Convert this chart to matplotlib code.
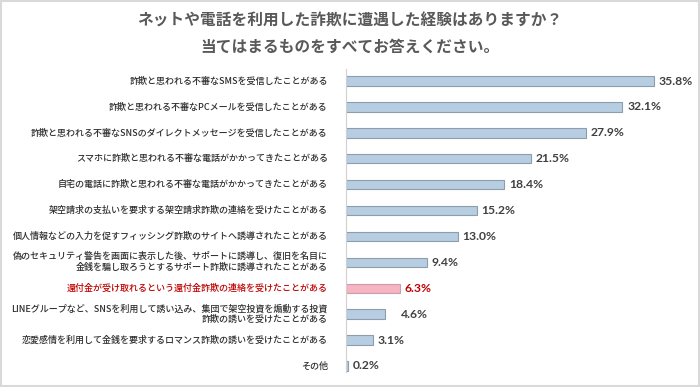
import matplotlib.pyplot as plt
from matplotlib.patches import Rectangle

plt.rcParams['font.family'] = ['Noto Sans CJK JP', 'DejaVu Sans']

title = "ネットや電話を利用した詐欺に遭遇した経験はありますか？\n当てはまるものをすべてお答えください。"
categories = [
    "詐欺と思われる不審なSMSを受信したことがある",
    "詐欺と思われる不審なPCメールを受信したことがある",
    "詐欺と思われる不審なSNSのダイレクトメッセージを受信したことがある",
    "スマホに詐欺と思われる不審な電話がかかってきたことがある",
    "自宅の電話に詐欺と思われる不審な電話がかかってきたことがある",
    "架空請求の支払いを要求する架空請求詐欺の連絡を受けたことがある",
    "個人情報などの入力を促すフィッシング詐欺のサイトへ誘導されたことがある",
    "偽のセキュリティ警告を画面に表示した後、サポートに誘導し、復旧を名目に\n金銭を騙し取ろうとするサポート詐欺に誘導されたことがある",
    "還付金が受け取れるという還付金詐欺の連絡を受けたことがある",
    "LINEグループなど、SNSを利用して誘い込み、集団で架空投資を煽動する投資\n詐欺の誘いを受けたことがある",
    "恋愛感情を利用して金銭を要求するロマンス詐欺の誘いを受けたことがある",
    "その他",
]
values = [35.8, 32.1, 27.9, 21.5, 18.4, 15.2, 13.0, 9.4, 6.3, 4.6, 3.1, 0.2]
highlight = 8  # 還付金詐欺

fig = plt.figure(figsize=(7, 3.87), dpi=100)
ax = fig.add_axes([0.494, 0.021, 0.491, 0.803])

y = list(range(len(values)))
colors = ["#f7b4c3" if i == highlight else "#b7cde1" for i in y]
edges = ["#c9a0aa" if i == highlight else "#8e9cab" for i in y]
ax.barh(y, values, height=0.36, color=colors, edgecolor=edges, linewidth=0.8)

for i, v in enumerate(values):
    off = 1.85 if i == 9 else 0.55
    c = "#c00000" if i == highlight else "#404040"
    ax.text(v + off, i, f"{v:.1f}%", va='center', ha='left', fontsize=8.7,
            fontweight='bold', color=c, family=['Lato', 'DejaVu Sans'])
    lc = "#c00000" if i == highlight else "#2e2e2e"
    ax.text(-2.1, i, categories[i], va='center', ha='right', fontsize=6.5,
            color=lc, multialignment='right', linespacing=1.25, fontweight='medium')

ax.set_xlim(0, 39.9)
ax.set_ylim(11.5, -0.5)
for s in ['top', 'right', 'bottom']:
    ax.spines[s].set_visible(False)
ax.spines['left'].set_color('#d0d0d0')
ax.spines['left'].set_bounds(-0.45, 11.25)
ax.set_xticks([])
ax.set_yticks([])

fig.text(0.5, 0.913, title, ha='center', va='center', fontsize=11.3,
         fontweight='bold', color='#595959', linespacing=1.75)

fig.patches.append(Rectangle((0.002, 0.003), 0.996, 0.994, transform=fig.transFigure,
                             fill=False, edgecolor='#d9d9d9', linewidth=1.5))

fig.savefig("out.png", dpi=100)
